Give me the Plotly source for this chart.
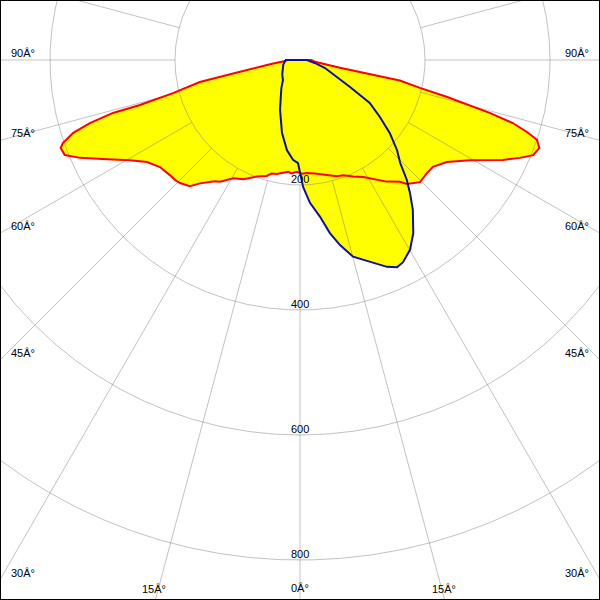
import numpy as np
import plotly.graph_objects as go

# ---- data (gamma in degrees, 0 = straight down, + = right) ----
red_gamma = [-90, -86.2, -82.3, -80.5, -78.5, -77.6, -75.4, -74.3, -74.2, -73.3, -72.2,
             -70.7, -69.8, -68.0, -66.0, -62.8, -59.5, -56.3, -52.6, -48.5, -46.2, -44.3, -41.1,
             -39.0, -35.1, -33.3, -29.4, -25.4, -20.4, -16.0, -14.0, -11.6, -8.4, -6.0, -4.2,
             -1.7, 0.9, 3.4, 7.5, 13.0, 17.6, 20.6, 24.5, 28.4, 31.6, 35.5, 39.4, 40.8, 44.5,
             48.3, 51.2, 55.2, 59.5, 63.8, 66.0, 67.8, 69.8, 71.4, 72.4, 73.5, 74.4, 74.8, 75.2,
             75.9, 76.9, 78.4, 78.9, 83.5, 90]
red_intensity = [20, 24, 45, 65, 114, 164, 210, 266, 311, 351, 381,
                 402, 408, 406, 385, 347, 316, 294, 282, 278, 277, 275, 268,
                 254, 237, 233, 217, 211, 199, 193, 187, 186, 182, 180, 182,
                 179, 182, 181, 183, 189, 195, 197, 205, 213, 224, 239, 252, 262, 274,
                 272, 273, 286, 316, 362, 385, 403, 408, 400, 381, 355, 316, 290, 278,
                 243, 197, 163, 65, 24, 18]

blue_gamma = [-90, -86, -73.6, -50.2, -40.4, -33.5, -28.5, -21.8, -13.9, -8.2, -4.0, -1.1,
              0, 1.4, 4.0, 7.3, 9.8, 12.2, 15.1, 19.1, 22.8, 25.1, 27.0, 30.1, 33.2, 37.0,
              39.6, 41.7, 44.2, 47.1, 50.9, 54.5, 58.4, 61.6, 65.5, 72.3, 78.7, 90]
blue_intensity = [24, 24, 28, 37, 42, 54, 64, 86, 120, 146, 160, 165,
                  180, 203, 229, 253, 281, 303, 326, 342, 359, 366, 363, 351, 331, 300,
                  276, 257, 230, 212, 185, 157, 131, 91, 63, 42, 24, 11]

ring_values = [200, 400, 600, 800]
ring_labels = ["200", "400", "600", "800"]
spoke_angles = list(range(-180, 180, 15))
label_angles = [90, 75, 60, 45, 30, 15, 0]

# ---- view geometry (axis units) ----
X_HALF = 480.0
Y_TOP, Y_BOT = 96.0, -864.0
GRID = "rgba(120,120,120,0.45)"


def to_xy(gamma, intensity):
    g = np.radians(np.asarray(gamma, dtype=float))
    i = np.asarray(intensity, dtype=float)
    return i * np.sin(g), -i * np.cos(g)


fig = go.Figure()

rx, ry = to_xy(red_gamma, red_intensity)
bx, by = to_xy(blue_gamma, blue_intensity)

# fills
fig.add_trace(go.Scatter(x=rx, y=ry, fill="toself", fillcolor="#ffff00",
                         line=dict(width=0), mode="lines", hoverinfo="skip"))
fig.add_trace(go.Scatter(x=bx, y=by, fill="toself", fillcolor="#ffff00",
                         line=dict(width=0), mode="lines", hoverinfo="skip"))

# grid circles
t = np.linspace(0, 2 * np.pi, 721)
for r in ring_values:
    fig.add_trace(go.Scatter(x=r * np.cos(t), y=r * np.sin(t), mode="lines",
                             line=dict(color=GRID, width=1), hoverinfo="skip"))
# spokes from the first ring outward
for a in spoke_angles:
    gx, gy = to_xy([a, a], [ring_values[0], 1200])
    fig.add_trace(go.Scatter(x=gx, y=gy, mode="lines",
                             line=dict(color=GRID, width=1), hoverinfo="skip"))

# curves
fig.add_trace(go.Scatter(x=np.append(rx, rx[0]), y=np.append(ry, ry[0]), mode="lines",
                         line=dict(color="#ff0000", width=2), hoverinfo="skip"))
fig.add_trace(go.Scatter(x=np.append(bx, bx[0]), y=np.append(by, by[0]), mode="lines",
                         line=dict(color="#1010a0", width=2), hoverinfo="skip"))

font = dict(family="Liberation Sans, Arial, sans-serif", size=11, color="#000000")
ann = []
for r, lab in zip(ring_values, ring_labels):
    ann.append(dict(x=0, y=-r, xref="x", yref="y", text=lab, showarrow=False,
                    xanchor="center", yanchor="middle", yshift=6, font=font))

for a in label_angles:
    txt = f"{a}Â°"
    if a == 0:
        ann.append(dict(x=0, y=0, xref="x", yref="paper", text=txt, showarrow=False,
                        xanchor="center", yanchor="middle", yshift=12, font=font))
        continue
    ga = np.radians(a)
    ys = -X_HALF * np.cos(ga) / np.sin(ga)
    if ys >= Y_BOT:
        for side in (-1, 1):
            ann.append(dict(x=0 if side < 0 else 1, y=ys, xref="paper", yref="y", text=txt,
                            showarrow=False, xanchor="left" if side < 0 else "right",
                            yanchor="middle", xshift=9 if side < 0 else -9, yshift=7, font=font))
    else:
        xs = -Y_BOT * np.tan(ga)
        for side in (-1, 1):
            ann.append(dict(x=side * xs, y=0, xref="x", yref="paper", text=txt,
                            showarrow=False, xanchor="center", yanchor="middle",
                            xshift=-1, yshift=11, font=font))

fig.update_layout(
    width=600, height=600,
    margin=dict(l=0, r=0, t=0, b=0),
    paper_bgcolor="#ffffff", plot_bgcolor="#ffffff",
    showlegend=False,
    xaxis=dict(range=[-X_HALF, X_HALF], visible=False, fixedrange=True),
    yaxis=dict(range=[Y_BOT, Y_TOP], visible=False, fixedrange=True),
    annotations=ann,
    shapes=[dict(type="rect", xref="paper", yref="paper", x0=0, y0=0, x1=1, y1=1,
                 line=dict(color="#000000", width=2))],
)

fig.write_html("out.html", config={"displayModeBar": False, "staticPlot": True},
               post_script="document.body.style.margin='0';document.body.style.overflow='hidden';")
